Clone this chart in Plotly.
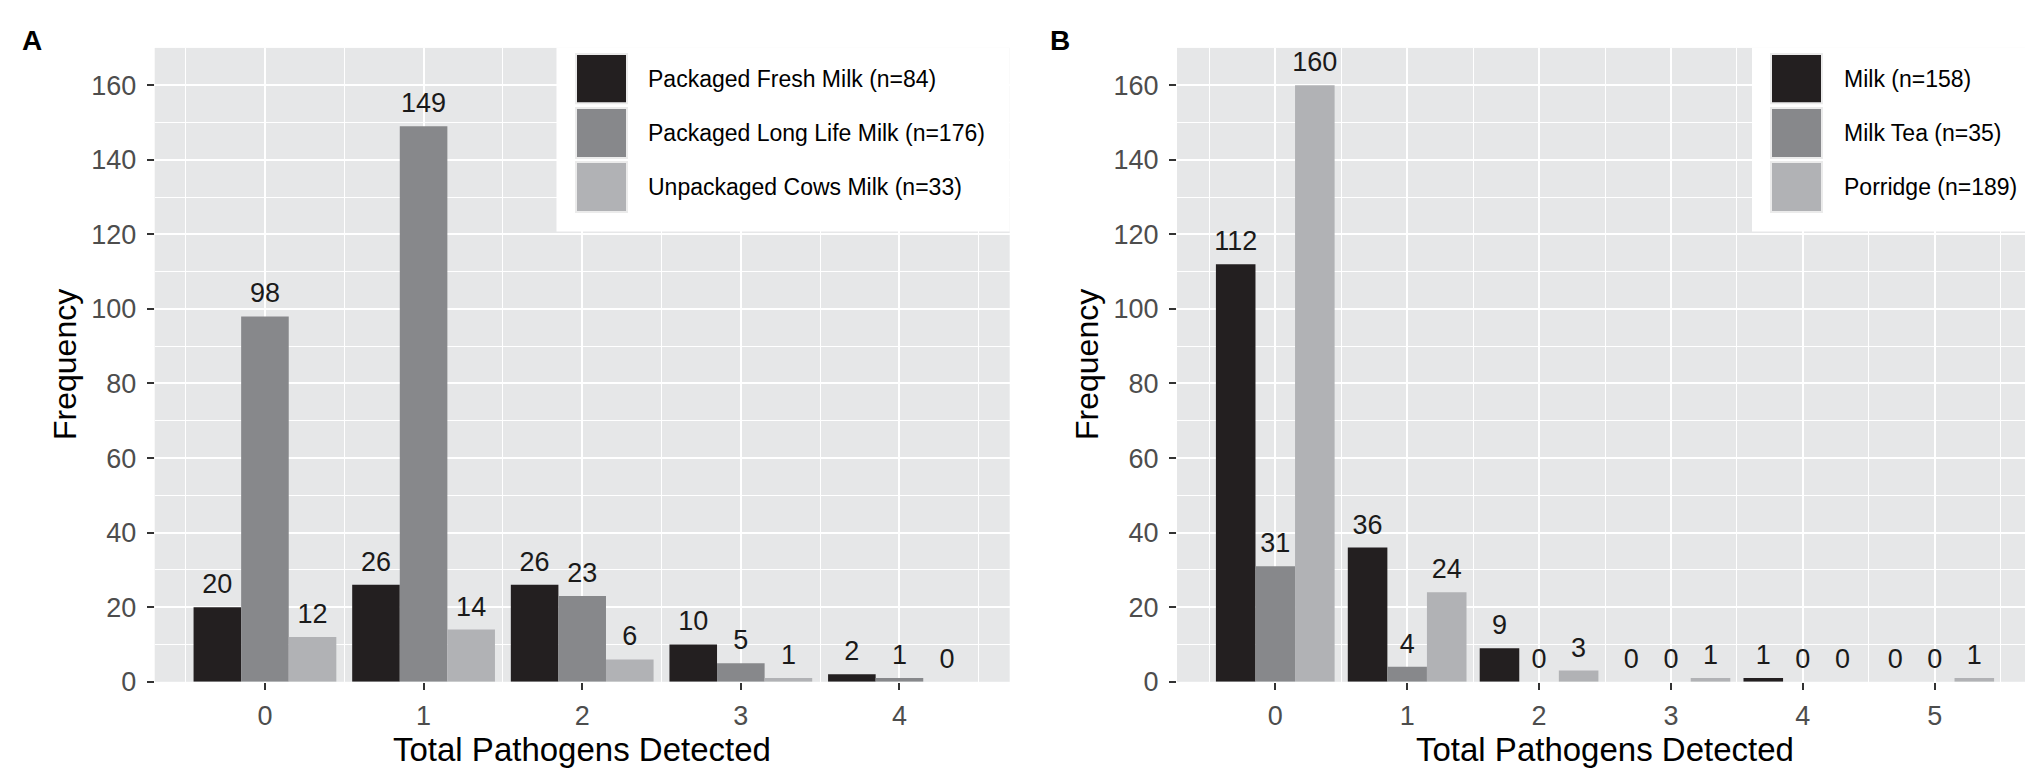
import plotly.graph_objects as go

W, H = 2033, 779

# panel A data
cats_a = [0, 1, 2, 3, 4]
names_a = ["Packaged Fresh Milk (n=84)", "Packaged Long Life Milk (n=176)", "Unpackaged Cows Milk (n=33)"]
fresh = [20, 26, 26, 10, 2]
long_life = [98, 149, 23, 5, 1]
unpackaged = [12, 14, 6, 1, 0]

# panel B data
cats_b = [0, 1, 2, 3, 4, 5]
names_b = ["Milk (n=158)", "Milk Tea (n=35)", "Porridge (n=189)"]
milk = [112, 36, 9, 0, 1, 0]
milk_tea = [31, 4, 0, 0, 0, 0]
porridge = [160, 24, 3, 1, 0, 1]

colors = ["#231f20", "#87888b", "#b1b2b5"]
FONT = "Liberation Sans, Arial, sans-serif"


def px_x(p):
    return p / W


def px_y(p):
    return 1 - p / H


fig = go.Figure()

panels = [
    ("x", "y", cats_a, names_a, [fresh, long_life, unpackaged]),
    ("x2", "y2", cats_b, names_b, [milk, milk_tea, porridge]),
]

for xa, ya, cats, names, series in panels:
    for i, (name, vals) in enumerate(zip(names, series)):
        fig.add_trace(go.Bar(x=cats, y=vals, name=name, marker_color=colors[i],
                             marker_line_width=0, xaxis=xa, yaxis=ya,
                             offsetgroup=str(i), showlegend=False))
    # count labels above each dodged bar (invisible marker pushes the text up a bit)
    for i, vals in enumerate(series):
        fig.add_trace(go.Scatter(x=[c + (i - 1) * 0.3 for c in cats], y=vals,
                                 mode="markers+text", text=[str(v) for v in vals],
                                 marker=dict(size=10, opacity=0),
                                 textposition="top center", cliponaxis=False,
                                 textfont=dict(size=27, color="#1a1a1a", family=FONT),
                                 xaxis=xa, yaxis=ya, showlegend=False, hoverinfo="skip"))

ydom = [px_y(687), px_y(40.7)]
axis_common = dict(
    showgrid=True, gridcolor="white", gridwidth=2.2, zeroline=False,
    ticks="outside", ticklen=7, tickwidth=2, tickcolor="#333333",
    tickfont=dict(size=27, color="#4d4d4d", family=FONT),
    showline=False,
)
minor_x = dict(showgrid=True, gridcolor="white", gridwidth=1.1, tick0=0.5, dtick=1)
minor_y = dict(showgrid=True, gridcolor="white", gridwidth=1.1, tick0=10, dtick=20)

fig.update_layout(
    width=W, height=H,
    margin=dict(l=0, r=0, t=0, b=0),
    paper_bgcolor="white", plot_bgcolor="#e6e7e8",
    barmode="group", bargap=0.1, bargroupgap=0,
    font=dict(family=FONT, color="black"),
    xaxis=dict(domain=[px_x(146.7), px_x(1001.7)], range=[-0.695, 4.695],
               tickmode="array", tickvals=cats_a, ticklabelstandoff=3,
               anchor="y", minor=minor_x, **axis_common),
    yaxis=dict(domain=ydom, range=[0, 170], dtick=20, tick0=0, ticklabelstandoff=5,
               anchor="x", minor=minor_y, **axis_common),
    xaxis2=dict(domain=[px_x(1169), px_x(2025)], range=[-0.745, 5.745],
                tickmode="array", tickvals=cats_b, ticklabelstandoff=3,
                anchor="y2", minor=minor_x, **axis_common),
    yaxis2=dict(domain=ydom, range=[0, 170], dtick=20, tick0=0, ticklabelstandoff=5,
                anchor="x2", minor=minor_y, **axis_common),
)

shapes = []
annotations = []

# custom ggplot-style legends inside each panel
legend_boxes = [
    (names_a, 548.5, 1001.7, 568, 638),
    (names_b, 1744, 2025, 1763, 1834),
]
rows = [(47, 97), (102, 153), (157, 208)]
for names, bx0, bx1, kx0, tx in legend_boxes:
    shapes.append(dict(type="rect", xref="paper", yref="paper",
                       x0=px_x(bx0), x1=px_x(bx1), y0=px_y(228), y1=px_y(40.7),
                       fillcolor="white", line_width=0, layer="above"))
    for i, (r0, r1) in enumerate(rows):
        shapes.append(dict(type="rect", xref="paper", yref="paper",
                           x0=px_x(kx0), x1=px_x(kx0 + 51), y0=px_y(r1), y1=px_y(r0),
                           fillcolor=colors[i], line=dict(color="#ebebeb", width=2),
                           layer="above"))
        annotations.append(dict(text=names[i], xref="paper", yref="paper",
                                x=px_x(tx), y=px_y((r0 + r1) / 2), xanchor="left",
                                yanchor="middle", showarrow=False,
                                font=dict(size=23, color="black", family=FONT)))

# axis titles and panel tags
for cx, fx, tag, tagx in [(574, 57, "A", 24), (1597, 1079, "B", 1052)]:
    annotations.append(dict(text="Total Pathogens Detected", xref="paper", yref="paper",
                            x=px_x(cx), y=px_y(756), xanchor="center", yanchor="middle",
                            showarrow=False, font=dict(size=33, color="black", family=FONT)))
    annotations.append(dict(text="Frequency", xref="paper", yref="paper", textangle=-90,
                            x=px_x(fx), y=px_y(364), xanchor="center", yanchor="middle",
                            showarrow=False, font=dict(size=32, color="black", family=FONT)))
    annotations.append(dict(text="<b>" + tag + "</b>", xref="paper", yref="paper",
                            x=px_x(tagx), y=px_y(33), xanchor="center", yanchor="middle",
                            showarrow=False, font=dict(size=28, color="black", family=FONT)))

fig.update_layout(shapes=shapes, annotations=annotations)

fig.write_html("out.html")
